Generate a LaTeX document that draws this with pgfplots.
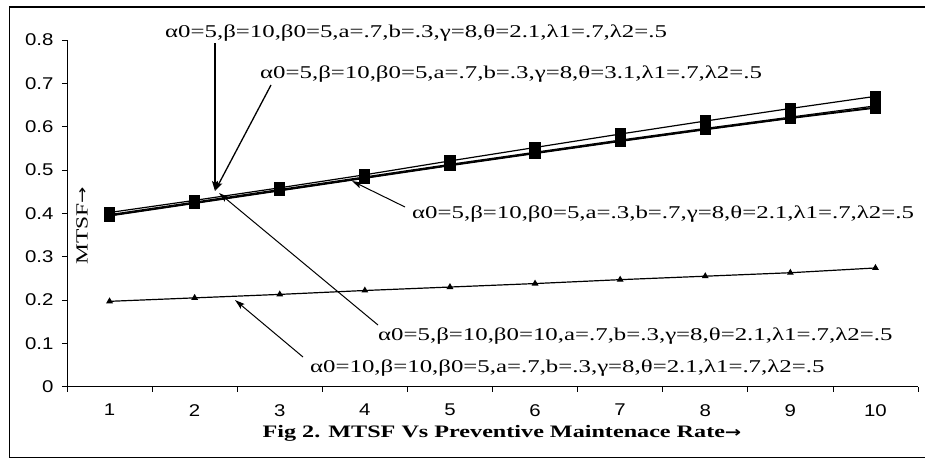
\documentclass[border=0pt]{standalone}
\usepackage{fontspec}
\setmainfont{Liberation Serif}
\newfontfamily\annot[FakeStretch=1.38]{Liberation Serif}
\newfontfamily\arrowf[FakeStretch=1.3]{DejaVu Sans}
\newfontfamily\ticksf[FakeStretch=1.2]{Liberation Sans}
\usepackage{pgfplots}
\pgfplotsset{compat=1.18}
\usetikzlibrary{arrows.meta}
\pgfplotstableread{
x  top    base   ab     bz     al
1  0.402  0.397  0.395  0.394  0.197
2  0.430  0.426  0.424  0.423  0.205
3  0.459  0.455  0.453  0.452  0.213
4  0.489  0.484  0.482  0.481  0.222
5  0.521  0.513  0.511  0.510  0.230
6  0.552  0.541  0.539  0.538  0.238
7  0.583  0.569  0.567  0.566  0.247
8  0.613  0.596  0.594  0.593  0.255
9  0.642  0.622  0.620  0.619  0.263
10 0.670  0.648  0.645  0.643  0.274
}\datatable
\begin{document}
\begin{tikzpicture}[x=1pt,y=1pt]
\useasboundingbox (0,0) rectangle (925,-458);
\draw[line width=1.5pt] (9,-7) -- (930,-7);
\draw[line width=1pt] (9,-7) -- (9,-457) -- (930,-457);
\begin{axis}[
  at={(67pt,-386.7pt)}, anchor=south west,
  scale only axis, width=851pt, height=346.7pt,
  xmin=0.5, xmax=10.5, ymin=0, ymax=0.8,
  axis lines*=left,
  axis line style={line width=0.8pt},
  xtick={1,...,10},
  minor xtick={0.5,1.5,...,10.5},
  ytick={0,0.1,...,0.8},
  tick align=outside,
  major x tick style={draw=none},
  minor tick length=5pt, major tick length=5pt,
  tick style={line width=0.8pt,black},
  /pgf/number format/assume math mode=true,
  yticklabel={\pgfmathprintnumber[fixed,zerofill=false,precision=1]{\tick}},
  ticklabel style={font=\ticksf\fontsize{17}{20}\selectfont},
  xticklabel style={yshift=-9pt},
  yticklabel style={xshift=-5pt},
  clip=false,
]
\addplot[black, line width=1.2pt, mark=square*, mark size=5pt] table[x=x,y=top] {\datatable};
\addplot[black, line width=1.2pt, mark=square*, mark size=5pt] table[x=x,y=base] {\datatable};
\addplot[black, line width=1.2pt, mark=square*, mark size=5pt] table[x=x,y=ab] {\datatable};
\addplot[black, line width=1.2pt, mark=square*, mark size=5pt] table[x=x,y=bz] {\datatable};
\addplot[black, line width=1.2pt, mark=triangle*, mark size=2.8pt] table[x=x,y=al] {\datatable};
\end{axis}
\tikzset{ann/.style={font=\annot\fontsize{18}{20}\selectfont, inner sep=0pt, anchor=base west}}
\node[ann] at (165,-37) {α0=5,β=10,β0=5,a=.7,b=.3,γ=8,θ=2.1,λ1=.7,λ2=.5};
\node[ann] at (260,-78) {α0=5,β=10,β0=5,a=.7,b=.3,γ=8,θ=3.1,λ1=.7,λ2=.5};
\node[ann] at (412,-218) {α0=5,β=10,β0=5,a=.3,b=.7,γ=8,θ=2.1,λ1=.7,λ2=.5};
\node[ann] at (378,-340) {α0=5,β=10,β0=10,a=.7,b=.3,γ=8,θ=2.1,λ1=.7,λ2=.5};
\node[ann] at (310,-372) {α0=10,β=10,β0=5,a=.7,b=.3,γ=8,θ=2.1,λ1=.7,λ2=.5};
\tikzset{arr/.style={-{Stealth[length=10pt,width=6pt,inset=2pt]}}}
\draw[arr, line width=1.3pt] (215,-43) -- (215,-191);
\draw[arr, line width=1.3pt] (271,-85) -- (215,-191);
\draw[arr, line width=1pt] (405,-207) -- (352,-181);
\draw[arr, line width=1pt] (378,-325) -- (219,-193);
\draw[arr, line width=1pt] (303,-357) -- (235,-300);
\node[rotate=90, font=\annot\fontsize{17}{20}\selectfont, inner sep=0pt] at (82,-226) {MTSF{\arrowf\fontsize{15}{18}\selectfont →}};
\node[font=\annot\bfseries\fontsize{17.5}{20}\selectfont, inner sep=0pt] at (502,-433) {Fig 2. MTSF Vs Preventive Maintenace Rate{\arrowf\bfseries\fontsize{15}{18}\selectfont →}};
\end{tikzpicture}
\end{document}
